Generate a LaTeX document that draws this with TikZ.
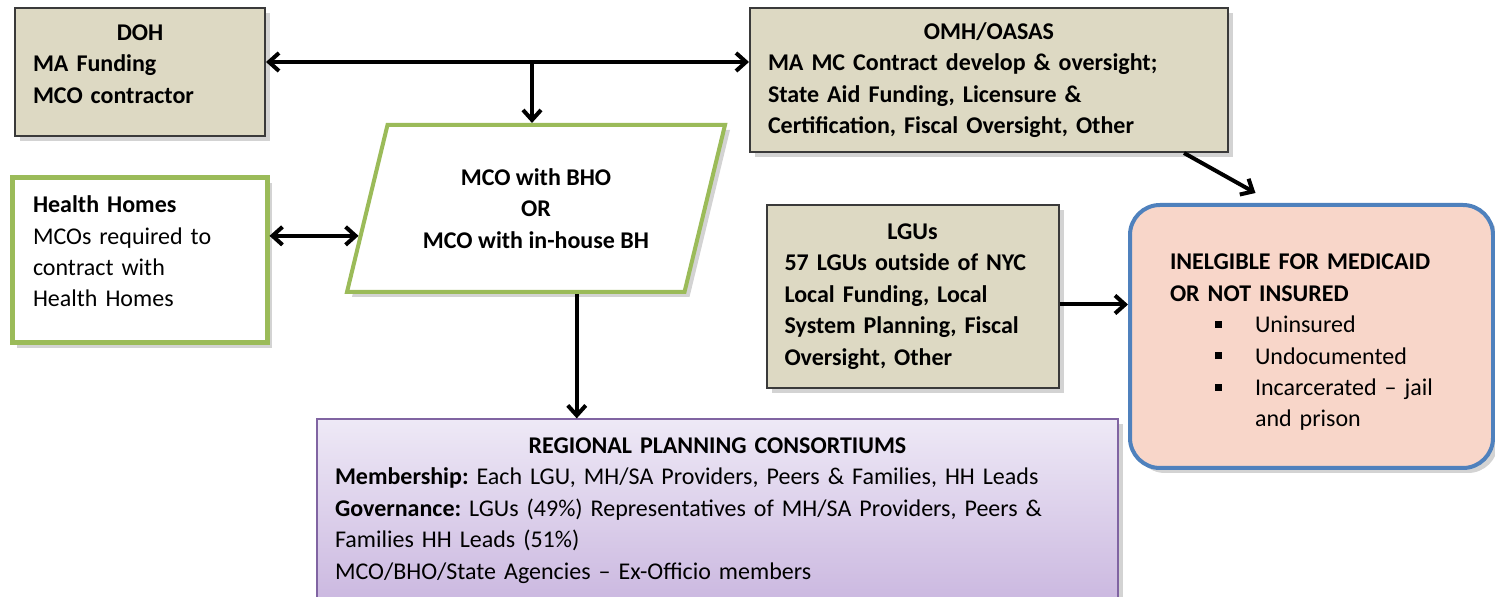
\documentclass[tikz,border=0pt]{standalone}
\usepackage{fontspec}
\setmainfont{Carlito}
\usepackage{tikz}
\usetikzlibrary{positioning,shapes.geometric,arrows.meta,shadows,calc}
\frenchspacing

\definecolor{tanbox}{HTML}{DDD9C3}
\definecolor{edgegray}{HTML}{3A3A3A}
\definecolor{greenline}{HTML}{9BBB59}
\definecolor{blueline}{HTML}{4F81BD}
\definecolor{pinkbox}{HTML}{F8D6C9}
\definecolor{purpletop}{HTML}{EEE9F6}
\definecolor{purplebot}{HTML}{CBB8E0}
\definecolor{purpleline}{HTML}{8064A2}

\tikzstyle{TAN_COLOR}=[fill=tanbox]
\tikzstyle{txt}=[font=\fontsize{12}{15.7}\selectfont]
\tikzstyle{shade_box}=[drop shadow={opacity=0.35, shadow xshift=2.5pt, shadow yshift=-2.5pt}]
\tikzstyle{layer}=[rectangle, txt, shade_box, align=left]
\tikzstyle{TAN_BLOCK}=[layer, TAN_COLOR, draw=edgegray, line width=1pt, inner xsep=9pt, font=\fontsize{12}{15.7}\selectfont\bfseries]
\tikzstyle{HH_BLOCK}=[layer, fill=white, draw=greenline, line width=2.5pt, inner xsep=10.5pt]
\tikzstyle{MCO_BLOCK}=[trapezium, trapezium left angle=66.5, trapezium right angle=113.5, trapezium stretches body,
  txt, shade_box, fill=white, draw=greenline, line width=2pt, align=center, font=\fontsize{12}{15.7}\selectfont\bfseries]
\tikzstyle{INEL_BLOCK}=[layer, fill=pinkbox, draw=blueline, line width=2pt, rounded corners=15pt, inner xsep=0pt]
\tikzstyle{RPC_BLOCK}=[layer, top color=purpletop, bottom color=purplebot, draw=purpleline, line width=0.6pt, inner xsep=9pt]
\tikzstyle{link}=[line width=2pt, -{Straight Barb[length=5pt,width=9pt]}]
\tikzstyle{dlink}=[line width=2pt, {Straight Barb[length=5pt,width=9pt]}-{Straight Barb[length=5pt,width=9pt]}]

\newcommand{\sqbullet}{\hspace*{22.5pt}\rule[2.5pt]{3.5pt}{3.5pt}\hspace{16.5pt}}
\newcommand{\liftup}[1]{\par\kern#1\nointerlineskip\hbox{}}

\begin{document}
\begin{tikzpicture}[x=0.5pt, y=-0.5pt]
      \useasboundingbox (0,0) rectangle (1495,597);

      %%%%%%%%%%%%%%%%%%%%%%%%%%%%%%%%%%%%%%%%%%
      % STATE AGENCIES
      %%%%%%%%%%%%%%%%%%%%%%%%%%%%%%%%%%%%%%%%%%
      \node[TAN_BLOCK, minimum width=125pt, minimum height=64pt, text width=107pt] (DOH) at (140,72)
        {\makebox[\linewidth]{DOH}\\ MA Funding\\ MCO contractor\liftup{8pt}};
      \node[TAN_BLOCK, minimum width=239pt, minimum height=72pt, text width=221pt] (OMH) at (989,80)
        {\makebox[\linewidth]{OMH/OASAS}\\ MA MC Contract develop \& oversight;\\ State Aid Funding, Licensure \&\\ Certification, Fiscal Oversight, Other};

      %%%%%%%%%%%%%%%%%%%%%%%%%%%%%%%%%%%%%%%%%%
      % MCO AND HEALTH HOMES
      %%%%%%%%%%%%%%%%%%%%%%%%%%%%%%%%%%%%%%%%%%
      \node[MCO_BLOCK, minimum width=189pt, minimum height=83.5pt] (MCO) at (536,208.5)
        {MCO with BHO\\ OR\\ MCO with in-house BH};
      \node[HH_BLOCK, minimum width=127.5pt, minimum height=82.5pt, text width=106.5pt] (HH) at (139.5,260.5)
        {\textbf{Health Homes}\\ MCOs required to\\ contract with\\ Health Homes\liftup{9pt}};

      %%%%%%%%%%%%%%%%%%%%%%%%%%%%%%%%%%%%%%%%%%
      % LOCAL AND UNINSURED
      %%%%%%%%%%%%%%%%%%%%%%%%%%%%%%%%%%%%%%%%%%
      \node[TAN_BLOCK, minimum width=144.5pt, minimum height=91.5pt, text width=128pt] (LGU) at (912.5,296.5)
        {\makebox[\linewidth]{LGUs}\\ 57 LGUs outside of NYC\\ Local Funding, Local\\ System Planning, Fiscal\\ Oversight, Other};
      \node[INEL_BLOCK, minimum width=181.5pt, minimum height=131.5pt, text width=141.5pt] (INEL) at (1311.5,336.5)
        {\textbf{INELGIBLE FOR MEDICAID}\\ \textbf{OR NOT INSURED}\\
         \sqbullet Uninsured\\ \sqbullet Undocumented\\ \sqbullet Incarcerated -- jail\\ \hspace*{42.5pt}and prison\liftup{-6pt}};

      %%%%%%%%%%%%%%%%%%%%%%%%%%%%%%%%%%%%%%%%%%
      % CONSORTIUMS
      %%%%%%%%%%%%%%%%%%%%%%%%%%%%%%%%%%%%%%%%%%
      \node[RPC_BLOCK, minimum width=400.5pt, minimum height=91.5pt, text width=382.5pt] (RPC) at (717.5,510.5)
        {\makebox[\linewidth]{\textbf{REGIONAL PLANNING CONSORTIUMS}}\\
         \textbf{Membership:} Each LGU, MH/SA Providers, Peers \& Families, HH Leads\\
         \textbf{Governance:} LGUs (49\%) Representatives of MH/SA Providers, Peers \&\\
         Families HH Leads (51\%)\\
         MCO/BHO/State Agencies -- Ex-Officio members};

      % connectors
      \coordinate (split) at (532,62);
      \coordinate (hhin) at ($(MCO.bottom left corner)!0.34!(MCO.top left corner)$);
      \coordinate (mcoout) at ($(MCO.bottom left corner)!0.68!(MCO.bottom right corner)$);
      \draw[dlink] (DOH.east |- split) -- (OMH.west |- split);
      \draw[link] (split) -- (split |- MCO.north);
      \draw[dlink] (HH.east |- hhin) -- (hhin);
      \draw[link] (mcoout) -- (mcoout |- RPC.north);
      \draw[link] ([yshift=-4pt]LGU.east) -- ([yshift=-4pt]LGU.east -| INEL.west);
      \draw[link] ([xshift=-22.5pt]OMH.south east) -- ([xshift=-28pt,yshift=5pt]INEL.north);

\end{tikzpicture}
\end{document}
